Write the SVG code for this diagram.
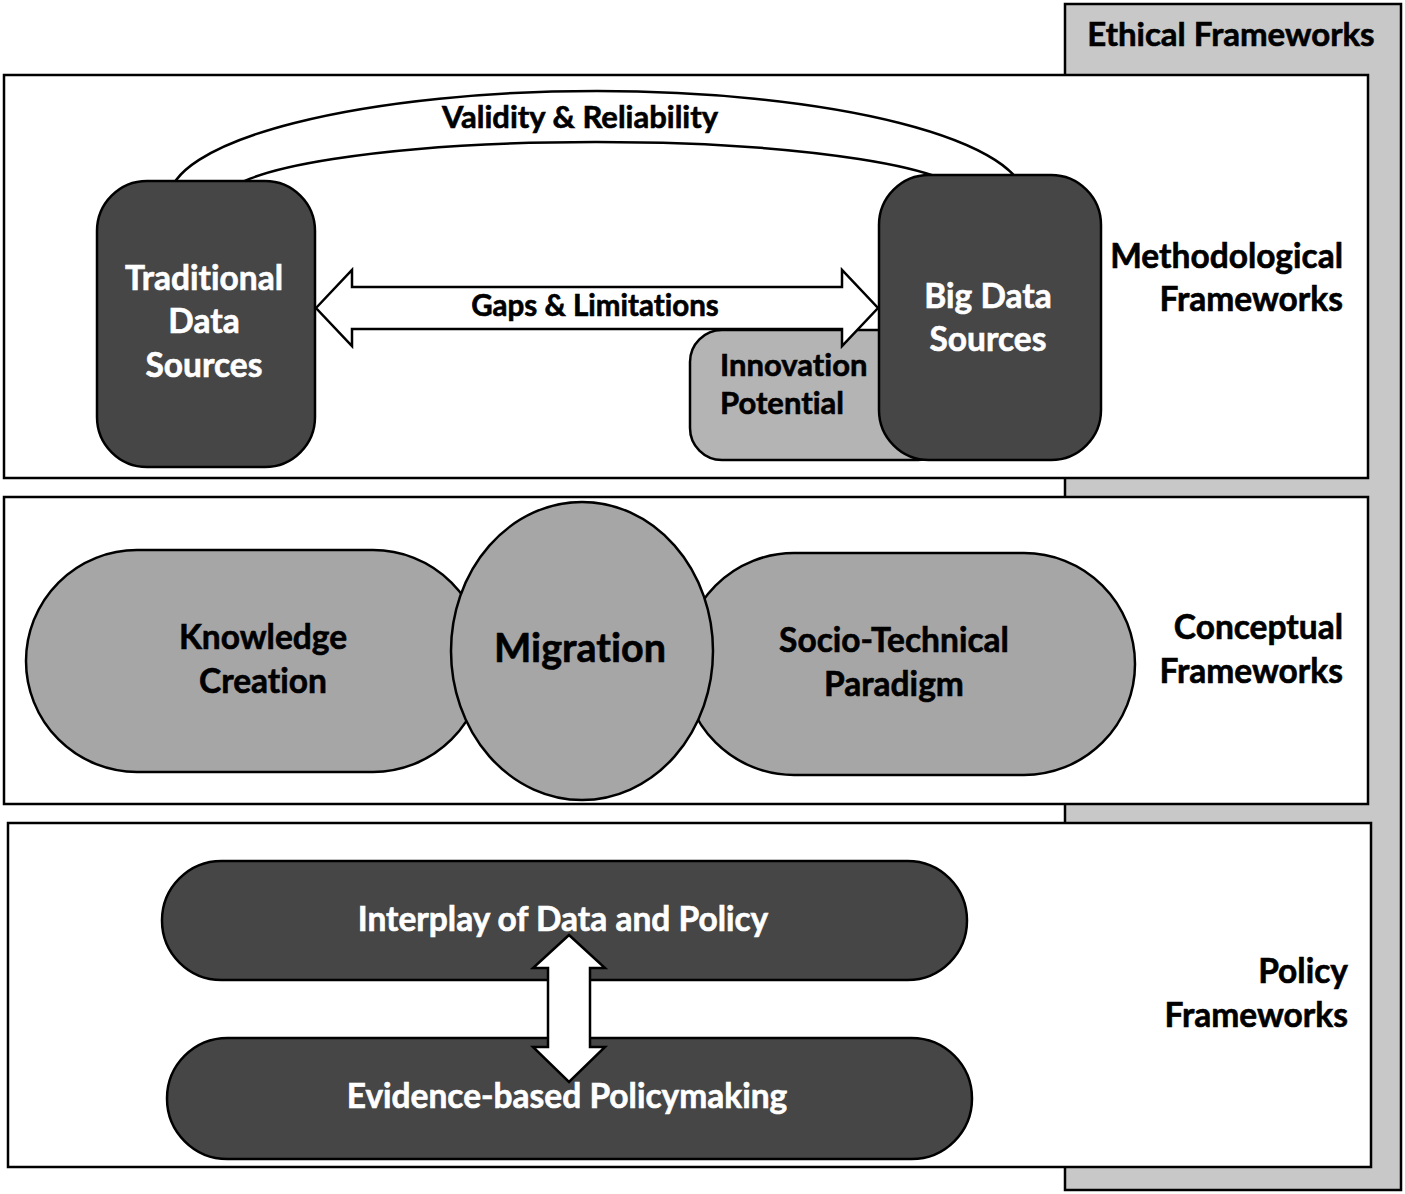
<svg xmlns="http://www.w3.org/2000/svg" width="1405" height="1194" viewBox="0 0 1405 1194">
<style>
  text { font-family: Lato, "Liberation Sans", sans-serif; font-weight: bold; font-variant-ligatures: none; font-feature-settings: "liga" 0, "clig" 0; stroke-width: 0.6; }
  .frame { fill: #ffffff; stroke: #000; stroke-width: 2.5; }
  .dark { fill: #464646; stroke: #000; stroke-width: 2.5; }
  .mid { fill: #a6a6a6; stroke: #000; stroke-width: 2.5; }
  .light { fill: #b4b4b4; stroke: #000; stroke-width: 2.5; }
  .conn { fill: #ffffff; stroke: #000; stroke-width: 2.5; stroke-linejoin: miter; }
  .wt { fill: #ffffff; stroke: #ffffff; font-size: 33.5px; text-anchor: middle; }
  .bt { fill: #000000; stroke: #000000; font-size: 33.5px; text-anchor: middle; }
  .lbl { fill: #000000; stroke: #000000; font-size: 33.5px; text-anchor: end; }
</style>
<rect width="1405" height="1194" fill="#ffffff"/>

<g id="ethical">
  <rect x="1065" y="4" width="336" height="1186" fill="#c8c8c8" stroke="#000" stroke-width="2.5"/>
  <text x="1231" y="46" class="bt" style="font-size:33px">Ethical Frameworks</text>
</g>

<g id="methodological">
  <rect class="frame" x="4" y="75" width="1364" height="403"/>
  <text class="lbl" x="1343" y="268">Methodological</text>
  <text class="lbl" x="1343" y="311">Frameworks</text>
</g>

<g id="conceptual">
  <rect class="frame" x="4" y="497" width="1364" height="307"/>
  <text class="lbl" x="1343" y="639">Conceptual</text>
  <text class="lbl" x="1343" y="683">Frameworks</text>
</g>

<g id="policy">
  <rect class="frame" x="8" y="823" width="1363" height="344"/>
  <text class="lbl" x="1348" y="983">Policy</text>
  <text class="lbl" x="1348" y="1027">Frameworks</text>
</g>

<g id="connectors">
  <path id="validity-reliability" class="conn" d="M169,200 A428,109 0 0 1 1025,200 L968,200 A372,58 0 0 0 224,200 Z"/>
  <text x="580" y="128" class="bt" style="font-size:31px">Validity &amp; Reliability</text>
</g>

<g id="innovation">
  <rect class="light" x="690" y="330" width="260" height="130" rx="32"/>
  <text x="720" y="376" style="font-size:31px;fill:#000;stroke:#000">Innovation</text>
  <text x="720" y="414" style="font-size:31px;fill:#000;stroke:#000">Potential</text>
</g>

<g id="traditional">
  <rect class="dark" x="97" y="181" width="218" height="286" rx="50"/>
  <text class="wt" x="204" y="290">Traditional</text>
  <text class="wt" x="204" y="333">Data</text>
  <text class="wt" x="204" y="377">Sources</text>
</g>

<g id="bigdata">
  <rect class="dark" x="879" y="175" width="222" height="285" rx="50"/>
  <text class="wt" x="988" y="308">Big Data</text>
  <text class="wt" x="988" y="351">Sources</text>
</g>

<g id="gaps">
  <polygon class="conn" points="316,308 352,270 352,287 842,287 842,270 878,308 842,346 842,329 352,329 352,346"/>
  <text x="595" y="316" class="bt" style="font-size:29.5px">Gaps &amp; Limitations</text>
</g>

<g id="knowledge">
  <rect class="mid" x="26" y="550" width="458" height="222" rx="111"/>
  <text class="bt" x="263" y="649">Knowledge</text>
  <text class="bt" x="263" y="693">Creation</text>
</g>

<g id="socio">
  <rect class="mid" x="683" y="553" width="452" height="222" rx="111"/>
  <text class="bt" x="894" y="652">Socio-Technical</text>
  <text class="bt" x="894" y="696">Paradigm</text>
</g>

<g id="migration">
  <ellipse class="mid" cx="582" cy="651" rx="131" ry="149"/>
  <text class="bt" x="580" y="662" style="font-size:39.5px">Migration</text>
</g>

<g id="interplay">
  <rect class="dark" x="162" y="861" width="805" height="119" rx="59.5"/>
  <text class="wt" x="563" y="931">Interplay of Data and Policy</text>
</g>

<g id="evidence">
  <rect class="dark" x="167" y="1038" width="805" height="121" rx="60.5"/>
  <text class="wt" x="567" y="1108">Evidence-based Policymaking</text>
</g>

<g id="connectors-policy">
  <polygon class="conn" points="569,935 605,968 590,968 590,1047 605,1047 569,1082 533,1047 548,1047 548,968 533,968"/>
</g>
</svg>
